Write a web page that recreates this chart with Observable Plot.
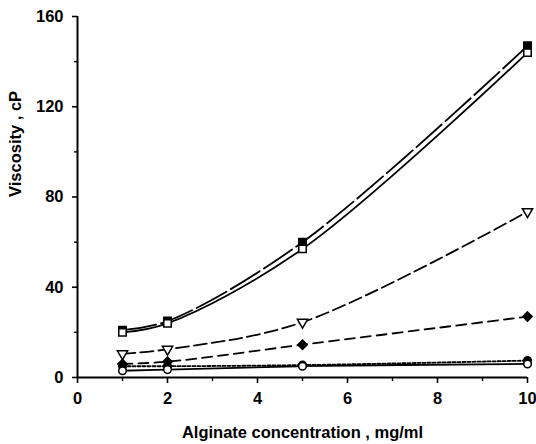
<!DOCTYPE html>
<html><head><meta charset="utf-8">
<script src="https://cdn.jsdelivr.net/npm/d3@7"></script>
<script src="https://cdn.jsdelivr.net/npm/@observablehq/plot@0.6"></script>
<style>body{margin:0;background:#fff} svg{font-family:"Liberation Sans",Arial,sans-serif}</style>
</head><body><div id="chart"></div>
<script>
const concentrations = [1, 2, 5, 10];
const filledSquare = [21, 25, 60, 147];
const openSquare = [20, 24, 57, 144];
const openTriangle = [10.5, 12.5, 24.5, 73.5];
const filledDiamond = [6, 7, 14.5, 27];
const filledCircle = [5, 5, 5.5, 7.5];
const openCircle = [3, 3.5, 5, 6];
const xTicks = [0, 2, 4, 6, 8, 10];
const yTicks = [0, 40, 80, 120, 160];
const xMinor = [1, 3, 5, 7, 9];
const yMinor = [20, 60, 100, 140];
const xTitle = "Alginate concentration , mg/ml";
const yTitle = "Viscosity , cP";

const seriesDefs = [
  {name: "filledSquare", values: filledSquare, symbol: "square", fill: "black", rotate: 0, dash: "34,5", r: 4.2},
  {name: "openSquare", values: openSquare, symbol: "square", fill: "white", rotate: 0, dash: null, r: 4.2},
  {name: "openTriangle", values: openTriangle, symbol: "triangle", fill: "white", rotate: 180, dash: "13,5", r: 3.8},
  {name: "filledDiamond", values: filledDiamond, symbol: "diamond2", fill: "black", rotate: 0, dash: "10,6", r: 4.2},
  {name: "filledCircle", values: filledCircle, symbol: "circle", fill: "black", rotate: 0, dash: "3,2", r: 3.8},
  {name: "openCircle", values: openCircle, symbol: "circle", fill: "white", rotate: 0, dash: null, r: 3.8}
];
const data = seriesDefs.flatMap(s => concentrations.map((c, i) => ({series: s.name, x: c, y: s.values[i]})));

const marks = [];
for (const s of seriesDefs) {
  const d = data.filter(p => p.series === s.name);
  marks.push(Plot.line(d, {x: "x", y: "y", curve: "catmull-rom", stroke: "black", strokeWidth: 1.8, strokeDasharray: s.dash}));
}
for (const s of seriesDefs) {
  const d = data.filter(p => p.series === s.name);
  marks.push(Plot.dot(d, {x: "x", y: "y", symbol: () => s.symbol, r: s.r, fill: s.fill, stroke: "black", strokeWidth: 1.5, rotate: s.rotate}));
}

const plot = Plot.plot({
  width: 536, height: 444,
  marginLeft: 77, marginRight: 9, marginTop: 16, marginBottom: 67,
  x: {domain: [0, 10]},
  y: {domain: [0, 160]},
  symbol: {type: "identity"},
  style: {fontFamily: "'Liberation Sans', Arial, sans-serif", background: "white", color: "black"},
  marks: [
    Plot.axisX({ticks: xTicks, tickSize: 6, tickPadding: 9, tickFormat: d => String(d), fontSize: 16.5, fontWeight: "bold", strokeWidth: 1.6, label: null}),
    Plot.axisX({ticks: xMinor, tickSize: 4, tickFormat: () => "", strokeWidth: 1.4, label: null}),
    Plot.axisY({ticks: yTicks, tickSize: 5, tickPadding: 9, tickFormat: d => String(d), fontSize: 16.5, fontWeight: "bold", strokeWidth: 1.6, label: null}),
    Plot.axisY({ticks: yMinor, tickSize: 3, tickFormat: () => "", strokeWidth: 1.4, label: null}),
    Plot.ruleX([0], {strokeWidth: 2}),
    Plot.ruleY([0], {strokeWidth: 2}),
    ...marks,
    Plot.text([xTitle], {frameAnchor: "bottom", dy: 55, fontSize: 16.5, fontWeight: "bold", lineAnchor: "middle"}),
    Plot.text([yTitle], {frameAnchor: "left", dx: -62, rotate: -90, fontSize: 16.5, fontWeight: "bold", lineAnchor: "middle"})
  ]
});
document.getElementById("chart").append(plot);
</script>
</body></html>
